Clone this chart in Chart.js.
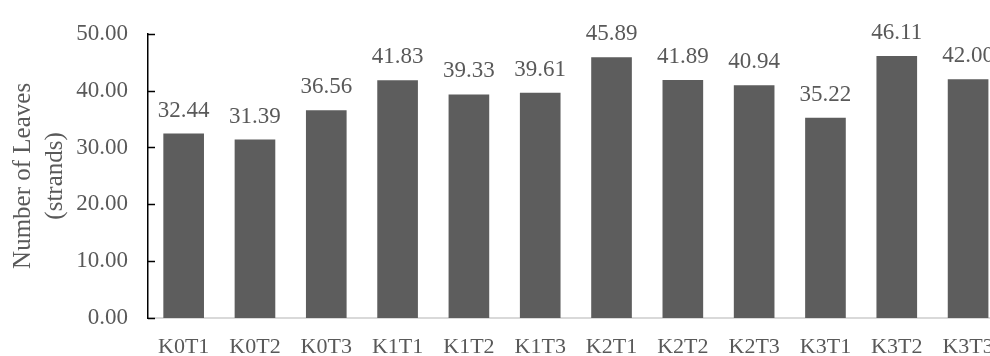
<!DOCTYPE html>
<html>
<head>
<meta charset="utf-8">
<script src="https://cdn.jsdelivr.net/npm/chart.js@4"></script>
<style>
    html, body { margin: 0; padding: 0; overflow: hidden; background: #fff; }
    #wrap { width: 1010px; height: 356px; position: relative; }
</style>
</head>
<body>
<div id="wrap"><canvas id="chartCanvas"></canvas></div>
<script>
// treatment groups and mean leaf counts
const treatments = ['K0T1', 'K0T2', 'K0T3', 'K1T1', 'K1T2', 'K1T3', 'K2T1', 'K2T2', 'K2T3', 'K3T1', 'K3T2', 'K3T3'];
const leafCounts = [32.44, 31.39, 36.56, 41.83, 39.33, 39.61, 45.89, 41.89, 40.94, 35.22, 46.11, 42.00];
const yTicks = [0, 10, 20, 30, 40, 50];

const textColor = '#595959';
const serif = "'Liberation Serif', 'Times New Roman', serif";

// short tick marks pointing into the plot from the value axis
const innerTicks = {
    id: 'innerTicks',
    afterDraw(chart) {
        const ctx = chart.ctx;
        const y = chart.scales.y;
        ctx.save();
        ctx.strokeStyle = '#000';
        ctx.lineWidth = 1.5;
        yTicks.forEach(function(v) {
            const py = Math.round(y.getPixelForValue(v)) + 0.5;
            ctx.beginPath();
            ctx.moveTo(y.right, py);
            ctx.lineTo(y.right + 7, py);
            ctx.stroke();
        });
        ctx.restore();
    }
};

// value printed above each bar
const barValues = {
    id: 'barValues',
    afterDatasetsDraw(chart) {
        const ctx = chart.ctx;
        const meta = chart.getDatasetMeta(0);
        ctx.save();
        ctx.font = '23px ' + serif;
        ctx.fillStyle = textColor;
        ctx.textAlign = 'center';
        ctx.textBaseline = 'middle';
        meta.data.forEach(function(bar, i) {
            ctx.fillText(leafCounts[i].toFixed(2), bar.x, bar.y - 23);
        });
        ctx.restore();
    }
};

document.addEventListener('DOMContentLoaded', function() {
    const ctx = document.getElementById('chartCanvas').getContext('2d');
    new Chart(ctx, {
        type: 'bar',
        data: {
            labels: treatments,
            datasets: [{
                data: leafCounts,
                backgroundColor: '#5d5d5d',
                barPercentage: 0.57,
                categoryPercentage: 1
            }]
        },
        options: {
            responsive: true,
            maintainAspectRatio: false,
            animation: false,
            layout: { padding: { top: 28, right: 6, left: 0, bottom: 0 } },
            plugins: {
                legend: { display: false },
                tooltip: { enabled: false }
            },
            scales: {
                x: {
                    grid: { display: false, drawTicks: false },
                    border: { display: true, color: '#d9d9d9', width: 2 },
                    ticks: {
                        color: textColor,
                        font: { family: serif, size: 22 },
                        padding: 16,
                        maxRotation: 0,
                        autoSkip: false
                    },
                    afterFit(scale) { scale.height = 38; }
                },
                y: {
                    min: 0,
                    max: 50,
                    grid: { display: false, drawTicks: false },
                    border: { display: true, color: '#000', width: 1.5 },
                    afterBuildTicks(scale) {
                        scale.ticks = yTicks.map(function(v) { return { value: v }; });
                    },
                    ticks: {
                        color: textColor,
                        font: { family: serif, size: 23 },
                        padding: 20,
                        callback: function(v) { return Number(v).toFixed(2); }
                    },
                    title: {
                        display: true,
                        text: ['Number of Leaves', '(strands)'],
                        color: textColor,
                        font: { family: serif, size: 25, lineHeight: 1.3 },
                        padding: { top: 7, bottom: 0 }
                    },
                    afterFit(scale) { scale.width = 148; }
                }
            }
        },
        plugins: [innerTicks, barValues]
    });
});
</script>
</body>
</html>
